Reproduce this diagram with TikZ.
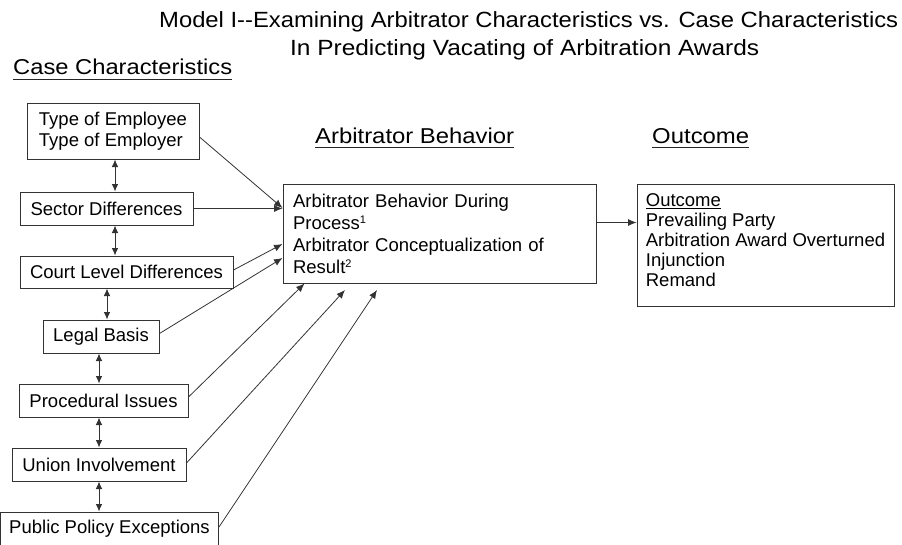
\documentclass[tikz,border=0pt]{standalone}
\usepackage{fontspec}
\setmainfont{Liberation Sans}
\usepackage{graphicx}
\usetikzlibrary{arrows.meta}
\newcommand{\fitw}[2]{\resizebox{#1}{\height}{#2}}
\newcommand{\smallsup}[1]{\raisebox{5.5pt}{\fontsize{11}{11}\selectfont #1}}
\begin{document}
\begin{tikzpicture}[x=1pt,y=-1pt,
  box/.style={draw=black!80, line width=1pt, inner sep=0pt, align=left,
    font=\fontsize{18.5}{20.5}\selectfont},
  conn/.style={draw=black!80, line width=0.8pt, -{Latex[length=8.5pt,width=7pt]}},
  dconn/.style={draw=black!80, line width=0.9pt,
    {Latex[length=7.5pt,width=6.5pt]}-{Latex[length=7.5pt,width=6.5pt]}},
  head/.style={anchor=base west, inner sep=0pt, font=\fontsize{21.5}{24}\selectfont},
  uline/.style={draw=black!85, line width=0.9pt}]
\useasboundingbox[fill=white] (0,0) rectangle (902,544);

% titles and headings
\node[head, font=\fontsize{22}{26}\selectfont] (t1) at (159,27)
  {\fitw{739pt}{Model I-{}-Examining Arbitrator Characteristics vs. Case Characteristics}};
\node[head, font=\fontsize{22}{26}\selectfont] (t2) at (290,55)
  {\fitw{469pt}{In Predicting Vacating of Arbitration Awards}};
\node[head] (hcase) at (13,74) {\fitw{219pt}{Case Characteristics}};
\node[head] (harb) at (315,143) {\fitw{199pt}{Arbitrator Behavior}};
\node[head] (hout) at (652,143) {\fitw{97pt}{Outcome}};
\draw[uline] ([yshift=-5pt]hcase.base west) -- ([yshift=-5pt]hcase.base east);
\draw[uline] ([yshift=-4.5pt]harb.base west) -- ([yshift=-4.5pt]harb.base east);
\draw[uline] ([yshift=-4.5pt]hout.base west) -- ([yshift=-4.5pt]hout.base east);

% case characteristic boxes
\node[box, minimum width=172pt, minimum height=56pt] (type) at (113,131)
  {Type of Employee\\Type of Employer};
\node[box, minimum width=173pt, minimum height=33pt] (sector) at (106.5,208.5)
  {Sector Differences};
\node[box, minimum width=213pt, minimum height=32pt] (court) at (126.5,272)
  {Court Level Differences};
\node[box, minimum width=116pt, minimum height=33pt] (legal) at (101,336.5)
  {Legal Basis};
\node[box, minimum width=169pt, minimum height=33pt] (proc) at (103.5,400.5)
  {Procedural Issues};
\node[box, minimum width=174pt, minimum height=33pt] (union) at (99,464.5)
  {Union Involvement};
\node[box, minimum width=218pt, minimum height=34pt] (public) at (109.5,529)
  {Public Policy Exceptions};

% arbitrator and outcome boxes
\node[box, minimum width=313pt, minimum height=99pt, text width=293pt,
  inner xsep=10pt, font=\fontsize{18.5}{22}\selectfont] (arb) at (439.5,233.5)
  {Arbitrator Behavior During\\Process\smallsup{1}\\Arbitrator Conceptualization of\\Result\smallsup{2}};
\node[box, minimum width=257pt, minimum height=122pt,
  font=\fontsize{18.5}{19.8}\selectfont] (outcome) at (765.5,245)
  {\underline{Outcome}\\Prevailing Party\\Arbitration Award Overturned\\Injunction\\Remand\rule[-10pt]{0pt}{10pt}};

% vertical double arrows
\coordinate (xa) at (115,0);
\coordinate (xb) at (107,0);
\coordinate (xc) at (99,0);
\draw[dconn] (type.south -| xa) -- (sector.north -| xa);
\draw[dconn] (sector.south -| xa) -- (court.north -| xa);
\draw[dconn] (court.south -| xb) -- (legal.north -| xb);
\draw[dconn] (legal.south -| xc) -- (proc.north -| xc);
\draw[dconn] (proc.south -| xc) -- (union.north -| xc);
\draw[dconn] (union.south -| xc) -- (public.north -| xc);

% arrows into arbitrator box
\coordinate (uend) at (345,290);
\coordinate (pend) at (377,290);
\draw[conn] ([yshift=-6pt]type.east) -- ([yshift=25.5pt]arb.west);
\draw[conn] (sector.east) -- (sector.east -| arb.west);
\draw[conn] ([yshift=2pt]court.east) -- ([yshift=-10.5pt]arb.west);
\draw[conn] ([yshift=3pt]legal.east) -- ([yshift=-24.5pt]arb.west);
\draw[conn] ([yshift=3.5pt]proc.east) -- ([xshift=22pt]arb.south west);
\draw[conn] ([yshift=1.5pt]union.east) -- (uend);
\draw[conn] ([yshift=2pt]public.east) -- (pend);

% arrow to outcome
\draw[conn] ([yshift=11pt]arb.east) -- ([yshift=11pt]arb.east -| outcome.west);
\end{tikzpicture}
\end{document}
